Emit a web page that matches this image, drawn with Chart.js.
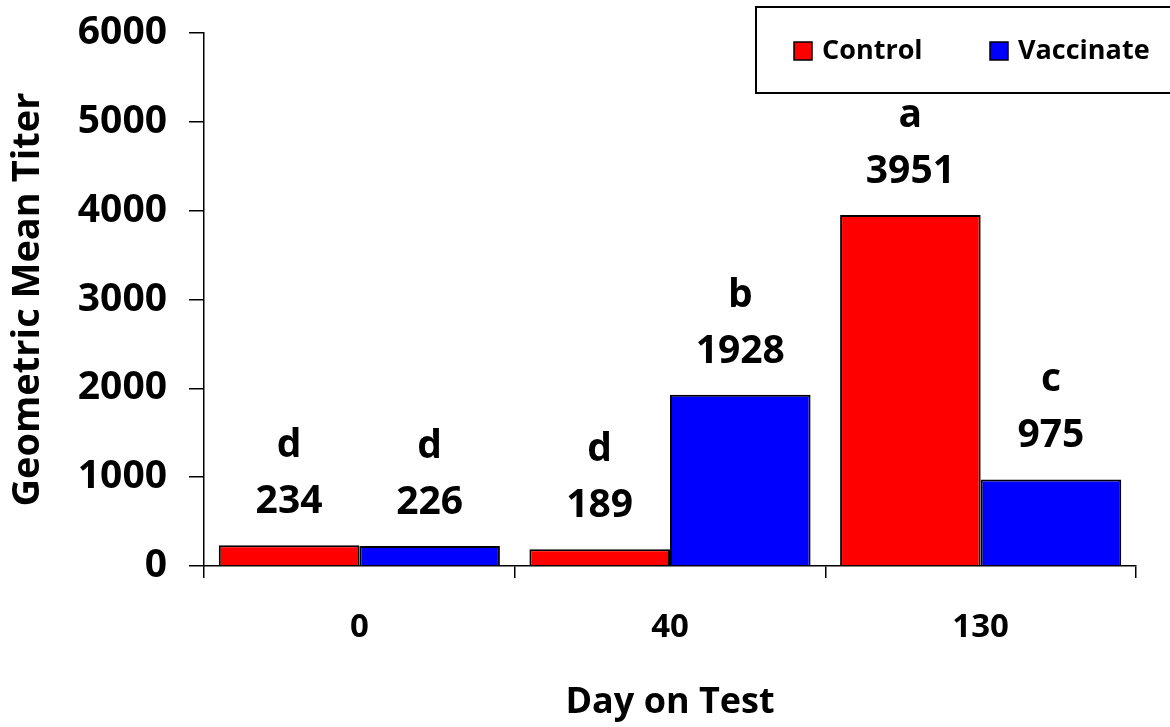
<!DOCTYPE html>
<html>
<head>
<meta charset="utf-8">
<script src="https://cdn.jsdelivr.net/npm/chart.js@4"></script>
<style>
  html, body { margin: 0; padding: 0; background: #fff; }
  #wrap { width: 1170px; height: 727px; }
</style>
</head>
<body>
<div id="wrap"><canvas id="titerChart" width="1170" height="727"></canvas></div>
<script>
const days = ['0', '40', '130'];
const control = [234, 189, 3951];
const vaccinate = [226, 1928, 975];
const controlLetters = ['d', 'd', 'a'];
const vaccinateLetters = ['d', 'b', 'c'];
const yTicks = [0, 1000, 2000, 3000, 4000, 5000, 6000];

const FONT = "'Open Sans', sans-serif";

// value + significance letter above each bar
const barLabels = {
    id: 'barLabels',
    afterDatasetsDraw(chart) {
        const ctx = chart.ctx;
        const letters = [controlLetters, vaccinateLetters];
        ctx.save();
        ctx.fillStyle = '#000';
        ctx.textAlign = 'center';
        ctx.textBaseline = 'alphabetic';
        chart.data.datasets.forEach((ds, i) => {
            chart.getDatasetMeta(i).data.forEach((bar, j) => {
                ctx.font = 'bold 39px ' + FONT;
                ctx.fillText(String(ds.data[j]), bar.x, bar.y - 32);
                ctx.fillText(letters[i][j], bar.x, bar.y - 88);
            });
        });
        ctx.restore();
    }
};

// boxed legend in the top right corner
const boxLegend = {
    id: 'boxLegend',
    afterDraw(chart) {
        const ctx = chart.ctx;
        ctx.save();
        ctx.strokeStyle = '#000';
        ctx.lineWidth = 2;
        ctx.strokeRect(756, 7, 420, 86);
        const items = [
            { x: 794, tx: 822 },
            { x: 990, tx: 1018 }
        ];
        ctx.font = 'bold 27px ' + FONT;
        ctx.textBaseline = 'middle';
        ctx.textAlign = 'left';
        chart.data.datasets.forEach((ds, i) => {
            const it = items[i];
            ctx.fillStyle = ds.backgroundColor;
            ctx.fillRect(it.x, 42, 18, 18);
            ctx.lineWidth = 1.5;
            ctx.strokeRect(it.x, 42, 18, 18);
            ctx.fillStyle = '#000';
            ctx.fillText(ds.label, it.tx, 51);
        });
        ctx.restore();
    }
};

const ctx = document.getElementById('titerChart').getContext('2d');
const titerChart = new Chart(ctx, {
    type: 'bar',
    data: {
        labels: days,
        datasets: [
            {
                label: 'Control',
                data: control,
                backgroundColor: '#ff0000',
                borderColor: '#000',
                borderWidth: 2
            },
            {
                label: 'Vaccinate',
                data: vaccinate,
                backgroundColor: '#0000ff',
                borderColor: '#000',
                borderWidth: 2
            }
        ]
    },
    options: {
        responsive: false,
        animation: false,
        categoryPercentage: 0.905,
        barPercentage: 1.0,
        layout: { padding: { top: 33, right: 34, bottom: 0, left: 0 } },
        plugins: {
            legend: { display: false },
            tooltip: { enabled: false }
        },
        scales: {
            x: {
                afterFit: (s) => { s.height = 161; s.paddingLeft = 0; s.paddingRight = 0; },
                grid: {
                    offset: true,
                    drawOnChartArea: false,
                    drawTicks: true,
                    tickLength: 12,
                    color: '#000',
                    lineWidth: 1.5
                },
                border: { display: true, color: '#000', width: 1.5 },
                ticks: {
                    color: '#000',
                    padding: 30,
                    font: { family: FONT, size: 33, weight: 'bold' }
                },
                title: {
                    display: true,
                    text: 'Day on Test',
                    color: '#000',
                    padding: { top: 0, bottom: 3 },
                    font: { family: FONT, size: 36, weight: 'bold' }
                }
            },
            y: {
                min: 0,
                max: 6000,
                afterFit: (s) => { s.width = 204; s.paddingTop = 0; s.paddingBottom = 0; },
                afterBuildTicks: (s) => { s.ticks = yTicks.map(v => ({ value: v })); },
                grid: {
                    drawOnChartArea: false,
                    drawTicks: true,
                    tickLength: 15,
                    color: '#000',
                    lineWidth: 1.5
                },
                border: { display: true, color: '#000', width: 1.5 },
                ticks: {
                    color: '#000',
                    padding: 22,
                    callback: (v) => String(v),
                    font: { family: FONT, size: 39, weight: 'bold' }
                },
                title: {
                    display: true,
                    text: 'Geometric Mean Titer',
                    color: '#000',
                    padding: { top: 5, bottom: 0 },
                    font: { family: FONT, size: 38, weight: 'bold' }
                }
            }
        }
    },
    plugins: [barLabels, boxLegend]
});
</script>
</body>
</html>
